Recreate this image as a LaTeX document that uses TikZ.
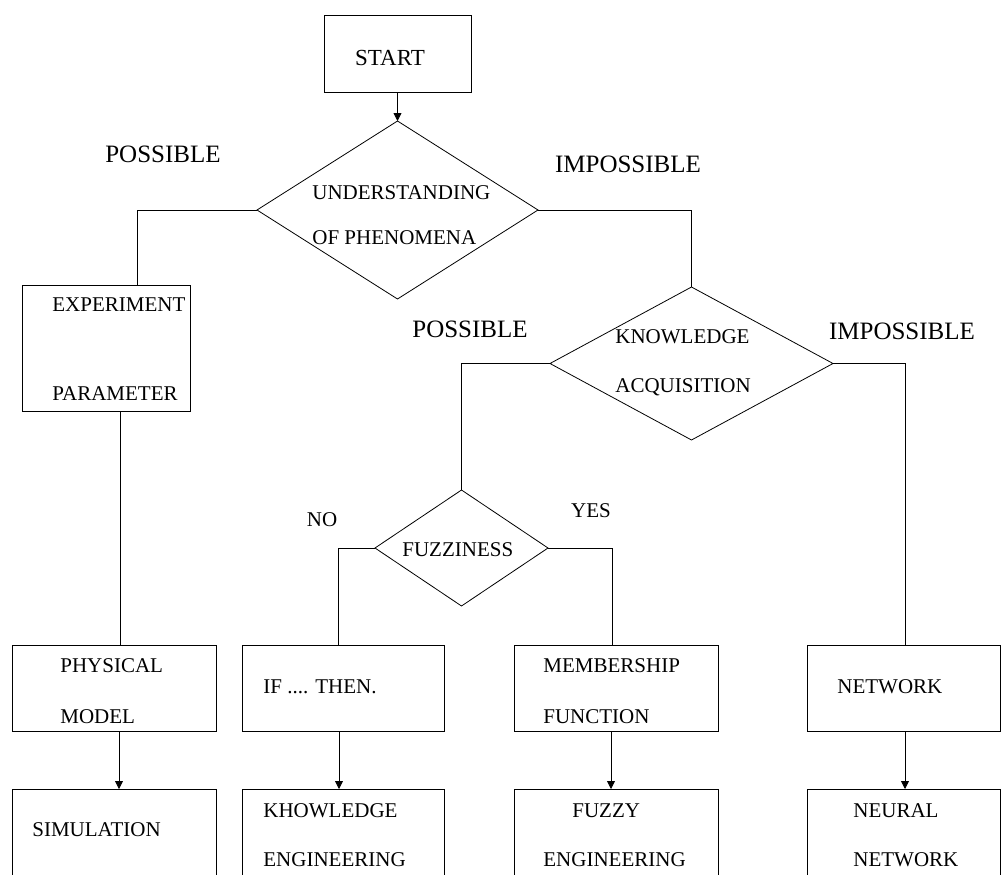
\documentclass[tikz,border=0pt]{standalone}
\usepackage{fontspec}
\setmainfont{Liberation Serif}
\usetikzlibrary{arrows.meta,shapes.geometric}
\begin{document}
\begin{tikzpicture}[x=1pt,y=-1pt,line width=0.8pt,
  box/.style={draw,rectangle,inner sep=0pt,outer sep=0pt},
  dia/.style={draw,diamond,inner sep=0pt,outer sep=0pt},
  txt/.style={inner sep=0pt,anchor=west,font=\fontsize{21}{24}\selectfont},
  lbl/.style={inner sep=0pt,font=\fontsize{25}{28}\selectfont},
  arr/.style={-{Triangle[length=8pt,width=8pt]}}]
\clip (0,0) rectangle (1001,875);
\fill[white] (0,0) rectangle (1001,875);
% boxes
\node[box,minimum width=147pt,minimum height=77pt] (start) at (397.5,53.5) {};
\node[box,minimum width=168pt,minimum height=126pt] (exp) at (106,348) {};
\node[box,minimum width=204pt,minimum height=86pt] (phys) at (114,688) {};
\node[box,minimum width=202pt,minimum height=86pt] (ifthen) at (343,688) {};
\node[box,minimum width=204pt,minimum height=86pt] (memb) at (616,688) {};
\node[box,minimum width=193pt,minimum height=86pt] (net) at (903.5,688) {};
\node[box,minimum width=204pt,minimum height=111pt] (sim) at (114,844.5) {};
\node[box,minimum width=202pt,minimum height=111pt] (know) at (343,844.5) {};
\node[box,minimum width=204pt,minimum height=111pt] (fuzeng) at (616,844.5) {};
\node[box,minimum width=193pt,minimum height=111pt] (neural) at (903.5,844.5) {};
% diamonds
\node[dia,minimum width=281pt,minimum height=178pt] (d1) at (397.5,210) {};
\node[dia,minimum width=283pt,minimum height=153pt] (d2) at (691.5,363.5) {};
\node[dia,minimum width=173pt,minimum height=116pt] (d3) at (461.5,548) {};
% connectors
\draw[arr] (start.south) -- (d1.north);
\draw (d1.west) -| ([xshift=31pt]exp.north);
\draw ([xshift=6pt]phys.north |- exp.south) -- ([xshift=6pt]phys.north);
\draw (d1.east) -| (d2.north);
\draw (d2.west) -| (d3.north);
\draw (d2.east) -| ([xshift=2pt]net.north);
\draw (d3.west) -| ([xshift=-5pt]ifthen.north);
\draw (d3.east) -| ([xshift=-4pt]memb.north);
\draw[arr] ([xshift=5pt]phys.south) -- ([xshift=5pt]sim.north);
\draw[arr] ([xshift=-4pt]ifthen.south) -- ([xshift=-4pt]know.north);
\draw[arr] ([xshift=-5pt]memb.south) -- ([xshift=-5pt]fuzeng.north);
\draw[arr] ([xshift=1.5pt]net.south) -- ([xshift=1.5pt]neural.north);
% labels
\node[lbl] (l1) at (163,154) {POSSIBLE};
\node[lbl] (l2) at (628,164) {IMPOSSIBLE};
\node[lbl] (l3) at (470,329) {POSSIBLE};
\node[lbl] (l4) at (902,331) {IMPOSSIBLE};
\node[lbl,font=\fontsize{21}{24}\selectfont] (l5) at (322,520) {NO};
\node[lbl,font=\fontsize{21}{24}\selectfont] (l6) at (591,511) {YES};
% texts
\node[txt,anchor=center,font=\fontsize{23}{26}\selectfont] (t0) at (390,58) {START};
\node[txt] (t1) at (312,193) {UNDERSTANDING};
\node[txt] (t2) at (312,238) {OF PHENOMENA};
\node[txt] (t3) at (615,337) {KNOWLEDGE};
\node[txt] (t4) at (615,387) {ACQUISITION};
\node[txt] (t5) at (402,550) {FUZZINESS};
\node[txt] (t6) at (52,305) {EXPERIMENT};
\node[txt] (t7) at (52,394) {PARAMETER};
\node[txt] (t8) at (60,666) {PHYSICAL};
\node[txt] (t9) at (60,717) {MODEL};
\node[txt] (t10) at (263,687) {IF .... THEN.};
\node[txt] (t11) at (543,666) {MEMBERSHIP};
\node[txt] (t12) at (543,717) {FUNCTION};
\node[txt] (t13) at (837,687) {NETWORK};
\node[txt] (t14) at (32,830) {SIMULATION};
\node[txt] (t15) at (263,811) {KHOWLEDGE};
\node[txt] (t16) at (263,860) {ENGINEERING};
\node[txt] (t17) at (572,811) {FUZZY};
\node[txt] (t18) at (543,860) {ENGINEERING};
\node[txt] (t19) at (853,811) {NEURAL};
\node[txt] (t20) at (853,860) {NETWORK};
\end{tikzpicture}
\end{document}
